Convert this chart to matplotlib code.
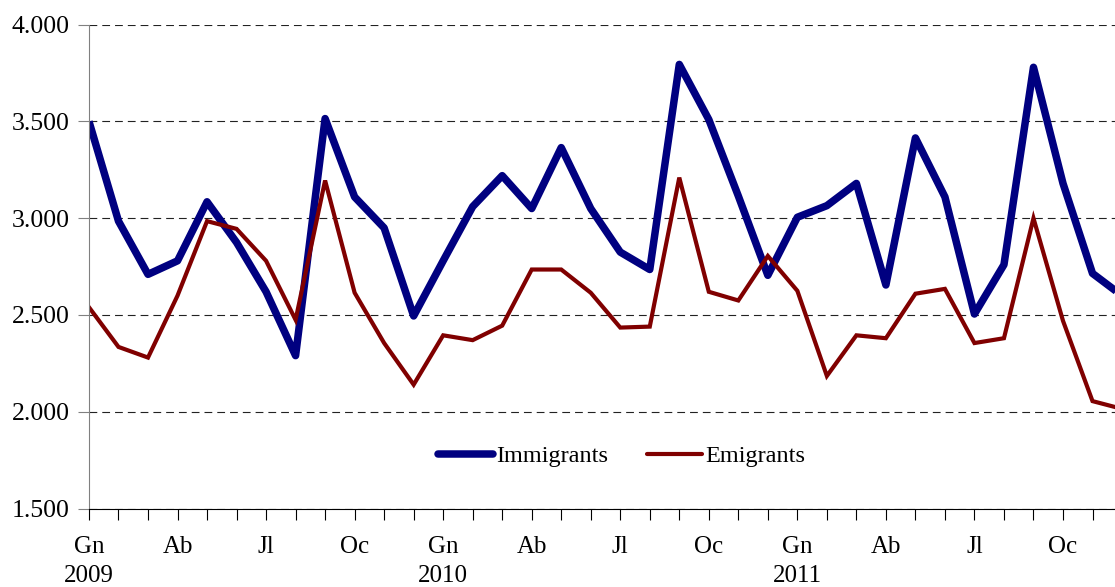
import matplotlib
matplotlib.use("Agg")
import matplotlib.pyplot as plt

# Monthly flows, Jan 2009 - Dec 2011
months = list(range(36))
immigrants = [3500, 2985, 2710, 2780, 3085, 2875, 2620, 2290, 3515, 3110, 2950, 2495,
              2780, 3060, 3220, 3050, 3365, 3050, 2825, 2735, 3795, 3510, 3115, 2705,
              3005, 3065, 3180, 2655, 3415, 3110, 2505, 2760, 3780, 3180, 2715, 2600]
emigrants = [2540, 2335, 2280, 2600, 2985, 2945, 2780, 2475, 3195, 2615, 2355, 2140,
             2395, 2370, 2445, 2735, 2735, 2615, 2435, 2440, 3210, 2620, 2575, 2805,
             2625, 2185, 2395, 2380, 2610, 2635, 2355, 2380, 3000, 2470, 2055, 2015]

month_names = ["Gn", "", "", "Ab", "", "", "Jl", "", "", "Oc", "", ""]
years = ["2009", "2010", "2011"]
x_labels = []
for y in years:
    for k, m in enumerate(month_names):
        x_labels.append(m + "\n" + y if k == 0 else m)

y_ticks = [1500, 2000, 2500, 3000, 3500, 4000]
y_labels = ["1.500", "2.000", "2.500", "3.000", "3.500", "4.000"]

plt.rcParams["font.family"] = ["Liberation Serif", "DejaVu Serif"]

fig = plt.figure(figsize=(11.15, 5.87), dpi=100)
ax = fig.add_axes([0.0798, 0.1337, 0.9265, 0.8242])

ax.plot(months, immigrants, color="#000080", lw=5.4, label="Immigrants",
        solid_joinstyle="round", solid_capstyle="butt")
ax.plot(months, emigrants, color="#800000", lw=3.0, label="Emigrants",
        solid_joinstyle="miter")

ax.set_xlim(0, 35)
ax.set_ylim(1500, 4000)

ax.set_yticks(y_ticks)
ax.set_yticklabels(y_labels, fontsize=18.5)
ax.set_xticks(months)
ax.set_xticklabels(x_labels, fontsize=18, linespacing=1.38)

ax.grid(axis="y", color="#222222", lw=0.8, linestyle=(0, (7, 4.5)))
ax.set_axisbelow(True)

for s in ["top", "right"]:
    ax.spines[s].set_visible(False)
ax.spines["left"].set_color("#808080")
ax.spines["bottom"].set_color("black")
ax.tick_params(axis="y", length=8, color="#808080", pad=6)
ax.tick_params(axis="x", length=8, color="black", pad=12)

leg = ax.legend(loc="center", bbox_to_anchor=(622 / 1115, 1 - 456 / 587),
                bbox_transform=fig.transFigure, ncol=2, frameon=False,
                fontsize=17.5, handlelength=2.25, handletextpad=0.15,
                columnspacing=1.6)
for h in leg.legend_handles:
    h.set_solid_capstyle("round")

fig.savefig("out.png", dpi=100)
